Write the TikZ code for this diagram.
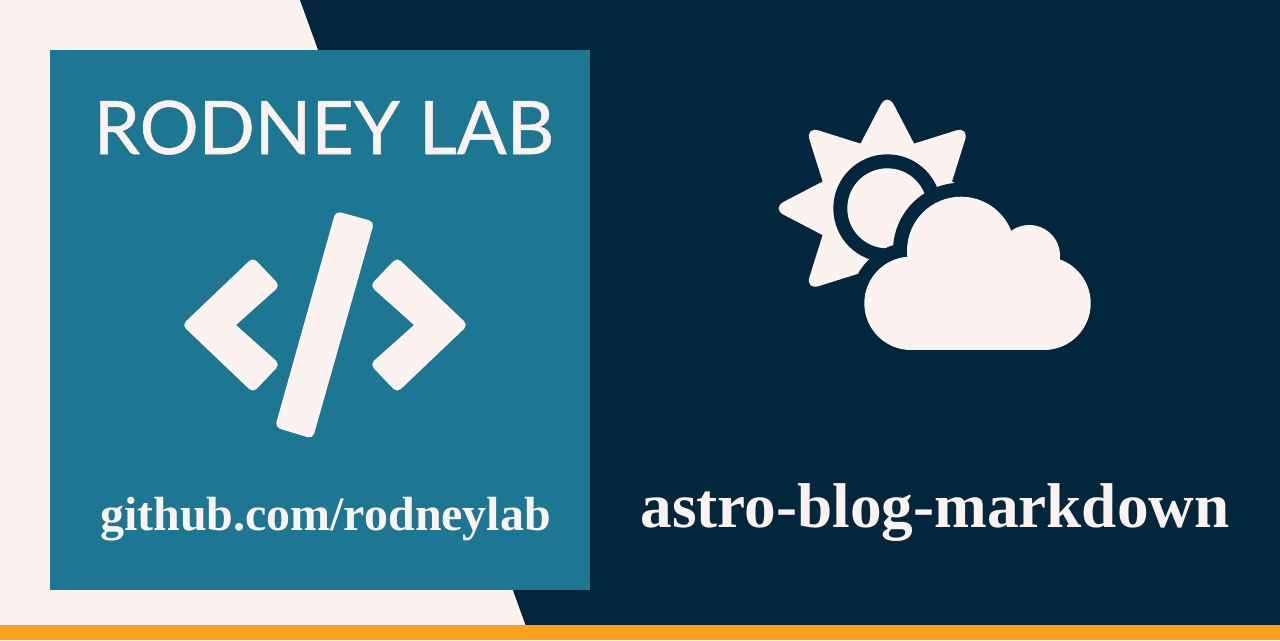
\documentclass[tikz,border=0pt]{standalone}
\usepackage{fontspec}
\setmainfont{Liberation Serif}
\newfontfamily\latofont[FakeBold=0.7]{Lato}
\definecolor{paper}{HTML}{FCF3F1}
\definecolor{navy}{HTML}{02263C}
\definecolor{teal}{HTML}{1D7792}
\definecolor{amber}{HTML}{FF9F1C}
\tikzset{
  icon/.style={fill=paper},
  gap/.style={fill=navy},
  label/.style={text=paper, anchor=base, inner sep=0pt}
}

\begin{document}
\begin{tikzpicture}[x=0.02cm, y=-0.02cm]
            \useasboundingbox (0, 0) rectangle (1280, 640);
            \fill[paper] (0, 0) rectangle (1280, 640);
            \fill[navy] (300, 0) -- (1280, 0) -- (1280, 625) -- (525.5, 625) -- cycle;
            \fill[amber] (0, 625) rectangle (1280, 640);
            \fill[teal] (50, 50) rectangle (590, 590);
            \node[label, font=\latofont\fontsize{42}{42}\selectfont] (title) at (324, 154) {RODNEY LAB};
            \node[label, font=\bfseries\fontsize{27.3}{27.3}\selectfont] (repo) at (325.5, 530) {github.com/rodneylab};
            \node[label, font=\bfseries\fontsize{36}{36}\selectfont] (post) at (935, 527) {astro-blog-markdown};
            % code brackets
            \fill[icon] (182, 325) [rounded corners=3pt] -- (253, 257.3) -- (280, 285.7) [sharp corners] -- (236, 325) [rounded corners=3pt] -- (280, 364.3) -- (253, 392.7) -- cycle;
            \fill[icon] (468, 325) [rounded corners=3pt] -- (397, 257.3) -- (370, 285.7) [sharp corners] -- (414, 325) [rounded corners=3pt] -- (370, 364.3) -- (397, 392.7) -- cycle;
            \fill[icon, rounded corners=3pt] (335.7, 211) -- (374.3, 221.7) -- (312.7, 438.7) -- (275, 427.3) -- cycle;
            % sun
            \begin{scope}[shift={(887.3, 208.3)}]
                \fill[icon] (-22.5:70) [rounded corners=8pt] -- (0:116) [sharp corners] -- (22.5:70) [rounded corners=8pt] -- (45:116) [sharp corners] -- (67.5:70) [rounded corners=8pt] -- (90:116) [sharp corners] -- (112.5:70) [rounded corners=8pt] -- (135:116) [sharp corners] -- (157.5:70) [rounded corners=8pt] -- (180:116) [sharp corners] -- (202.5:70) [rounded corners=8pt] -- (225:116) [sharp corners] -- (247.5:70) [rounded corners=8pt] -- (270:116) [sharp corners] -- (292.5:70) [rounded corners=8pt] -- (315:116) [sharp corners] -- cycle;
                \fill[gap] (0, 0) circle (54);
                \fill[icon] (0, 0) circle (40);
            \end{scope}
            % cloud
            \fill[gap] (911, 303.3) circle (60.7);
            \fill[gap] (961, 250.7) circle (68);
            \fill[gap] (1029.3, 255.7) circle (44.7);
            \fill[gap] (1044, 303.3) circle (60.7);
            \fill[icon] (911, 303.3) circle (46.7);
            \fill[icon] (961, 250.7) circle (54);
            \fill[icon] (1029.3, 255.7) circle (30.7);
            \fill[icon] (1044, 303.3) circle (46.7);
            \fill[icon] (911, 270) rectangle (1044, 350);
\end{tikzpicture}
\end{document}
